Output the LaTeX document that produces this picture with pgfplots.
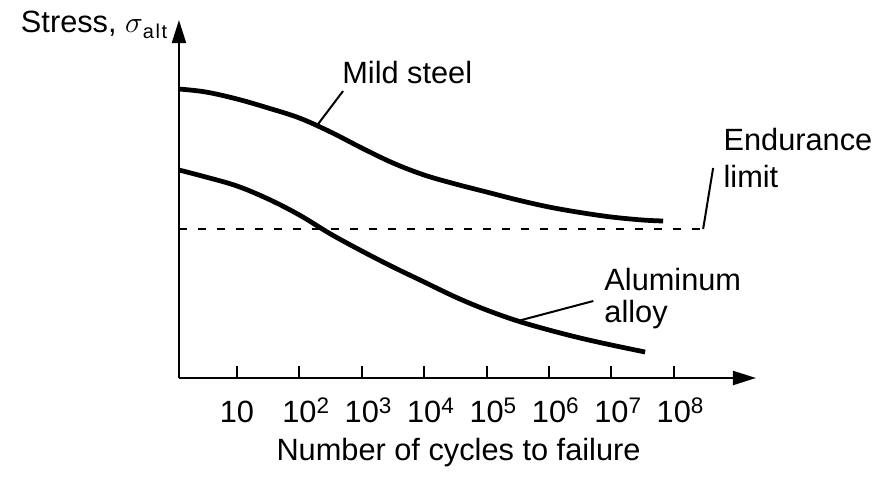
\documentclass[border=0pt]{standalone}
\usepackage{fontspec}
\setmainfont{Liberation Sans}
\usepackage{pgfplots}
\pgfplotsset{compat=1.18}
\usetikzlibrary{arrows.meta}
\newcommand{\sps}[1]{\rlap{\raisebox{3.6pt}{\fontsize{9pt}{10pt}\selectfont #1}}}
\begin{document}
\fontsize{12.3pt}{14.8pt}\selectfont
\begin{tikzpicture}
\begin{axis}[
  x=24.96pt, y=0.4pt,
  xmin=0.07, xmax=9.317, ymin=0, ymax=358,
  axis x line=bottom, axis y line=left,
  axis line style={line width=0.8pt, -{Triangle[length=9.2pt,width=5.6pt]}},
  xtick={1,2,3,4,5,6,7,8},
  xticklabels={10,10\sps{2},10\sps{3},10\sps{4},10\sps{5},10\sps{6},10\sps{7},10\sps{8}},
  ytick=\empty,
  tick align=inside,
  major tick length=4.8pt,
  every tick/.style={line width=0.8pt, black},
  xticklabel style={anchor=base, yshift=-17.6pt, inner sep=0pt, font=\fontsize{12.3pt}{14.8pt}\selectfont},
  clip=false,
]
% invisible bounding box matching the reference canvas
\path (axis cs:-2.798,-98) rectangle (axis cs:11.224,378);

% Mild steel
\addplot[line width=1.9pt, smooth, tension=0.6] coordinates {
 (0.07,289) (0.5,286) (1.0,279) (1.5,270) (2.0,260) (2.5,246)
 (3.0,230) (3.5,215) (4.0,203) (4.5,194) (5.0,186) (5.5,178)
 (6.0,171) (6.5,165.5) (7.0,161) (7.5,158) (7.83,157)};
% Aluminum alloy
\addplot[line width=1.9pt, smooth, tension=0.6] coordinates {
 (0.07,208) (0.5,201) (1.0,192) (1.5,179) (2.0,163) (2.5,144)
 (3.0,127) (3.5,111) (4.0,96) (4.5,81) (5.0,68) (5.5,57)
 (6.0,48) (6.5,40) (7.0,33) (7.54,26)};
% Endurance limit
\addplot[line width=0.8pt, dash pattern=on 3.2pt off 4.4pt] coordinates {(0.07,149) (8.47,149)};
% leader lines
\addplot[line width=0.8pt] coordinates {(2.30,254) (2.70,287)};
\addplot[line width=0.8pt] coordinates {(8.47,149) (8.63,210)};
\addplot[line width=0.8pt] coordinates {(5.50,57) (6.71,77)};

\node[anchor=base west, inner sep=0pt] at (axis cs:2.68,295) {Mild steel};
\node[anchor=base west, inner sep=0pt] at (axis cs:8.79,228) {Endurance};
\node[anchor=base west, inner sep=0pt] at (axis cs:8.79,191) {limit};
\node[anchor=base west, inner sep=0pt] at (axis cs:6.88,88) {Aluminum};
\node[anchor=base west, inner sep=0pt] at (axis cs:6.88,56) {alloy};
\node[anchor=base west, inner sep=0pt] at (axis cs:-2.47,346) {Stress, $\sigma$\raisebox{-2.4pt}{\fontsize{8pt}{9pt}\selectfont a\kern0.6pt l\kern0.6pt t}};
\node[anchor=base, inner sep=0pt] at (axis cs:4.55,-82) {Number of cycles to failure};
\end{axis}
\end{tikzpicture}
\end{document}
